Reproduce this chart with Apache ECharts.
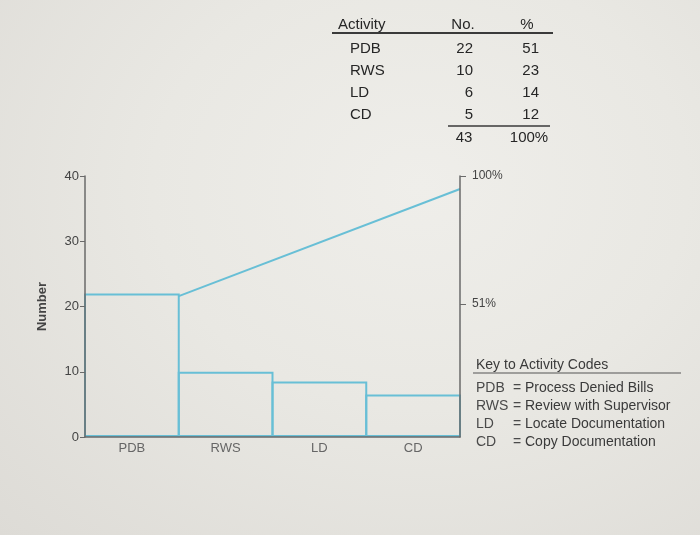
<!DOCTYPE html>
<html>
<head>
<meta charset="utf-8">
<script src="https://cdn.jsdelivr.net/npm/echarts@6/dist/echarts.min.js"></script>
<style>
  html, body { margin: 0; padding: 0; }
  body {
    width: 700px; height: 535px; overflow: hidden;
    background: radial-gradient(ellipse at 60% 35%, #efeeea 0%, #e9e8e3 45%, #dddbd6 100%);
  }
  #chart { width: 700px; height: 535px; }
</style>
</head>
<body>
<div id="chart"></div>
<script>
// ---- data ----
const categories = ['PDB', 'RWS', 'LD', 'CD'];
const barValues = [22, 10, 8.5, 6.5];          // bar heights as drawn in the figure
const cumulativeLine = [[1, 54], [4, 95]];       // cumulative % line as drawn (x = category boundary)
const rightTicks = [51, 100];

const tableActivities = ['PDB', 'RWS', 'LD', 'CD'];
const tableNo = [22, 10, 6, 5];
const tablePct = [51, 23, 14, 12];
const tableTotalNo = 43;
const tableTotalPct = '100%';

const keyCodes = ['PDB', 'RWS', 'LD', 'CD'];
const keyNames = ['Process Denied Bills', 'Review with Supervisor', 'Locate Documentation', 'Copy Documentation'];

// ---- styles ----
const CYAN = '#68bfd6';
const AXIS = '#6a6a6a';
const TXT = '#262626';
const FONT = 'Liberation Sans, Arial, sans-serif';
const GRID = { left: 85, right: 240, top: 176, bottom: 98 };
const BORDER = 2;
const catWidth = (700 - GRID.left - GRID.right) / categories.length;

// ---- graphics (table and key) ----
const g = [];
function txt(x, y, s, align, size, color, weight) {
  g.push({ type: 'text', x: x, y: y, z: 10,
    style: { text: String(s), fill: color || TXT, font: (weight || 'normal') + ' ' + (size || 15) + 'px ' + FONT,
      textAlign: align || 'left', textVerticalAlign: 'middle' } });
}
function ln(x1, y1, x2, y2, w, color) {
  g.push({ type: 'line', z: 10, shape: { x1: x1, y1: y1, x2: x2, y2: y2 },
    style: { stroke: color || '#3a3a3a', lineWidth: w || 1.5 } });
}
// table
txt(338, 25, 'Activity', 'left', 15);
txt(463, 25, 'No.', 'center', 15);
txt(527, 25, '%', 'center', 15);
ln(332, 33, 553, 33, 2);
const rowY = [49, 71, 93, 115];
tableActivities.forEach((a, i) => {
  txt(350, rowY[i], a, 'left', 15);
  txt(473, rowY[i], tableNo[i], 'right', 15);
  txt(539, rowY[i], tablePct[i], 'right', 15);
});
ln(448, 126, 550, 126, 1.5);
txt(464, 138, tableTotalNo, 'center', 15);
txt(529, 138, tableTotalPct, 'center', 15);

// key
txt(476, 365, 'Key to Activity Codes', 'left', 14, '#3a3a3a');
ln(473, 373, 681, 373, 1.2, '#555');
const keyY = [388, 406, 424, 442];
keyCodes.forEach((c, i) => {
  txt(476, keyY[i], c, 'left', 14, '#4a4a4a');
  txt(513, keyY[i], '=', 'left', 14, '#4a4a4a');
  txt(525, keyY[i], keyNames[i], 'left', 14, '#3a3a3a');
});

// ---- chart ----
const chart = echarts.init(document.getElementById('chart'), null, { renderer: 'canvas' });
chart.setOption({
  backgroundColor: 'transparent',
  animation: false,
  grid: GRID,
  xAxis: [
    {
      type: 'category', data: categories, z: 5,
      axisLine: { lineStyle: { color: AXIS, width: 1.5 } },
      axisTick: { show: false },
      axisLabel: { color: '#666', fontSize: 13, fontFamily: FONT, margin: 5 }
    },
    {
      type: 'value', min: 0, max: categories.length, show: false
    }
  ],
  yAxis: [
    {
      type: 'value', min: 0, max: 40, interval: 10, z: 5,
      name: 'Number', nameLocation: 'middle', nameGap: 36, nameRotate: 90,
      nameTextStyle: { color: '#444', fontSize: 13, fontWeight: 'bold', fontFamily: FONT },
      axisLine: { show: true, lineStyle: { color: AXIS, width: 1.5 } },
      axisTick: { show: true, length: 5, lineStyle: { color: AXIS } },
      axisLabel: { color: '#444', fontSize: 13, fontFamily: FONT, margin: 6 },
      splitLine: { show: false }
    },
    {
      type: 'value', min: 0, max: 100, position: 'right', z: 5,
      axisLine: { show: true, lineStyle: { color: AXIS, width: 1.5 } },
      axisTick: { show: true, length: 6, customValues: rightTicks, lineStyle: { color: AXIS } },
      axisLabel: { show: true, customValues: rightTicks, formatter: v => v + '%',
        color: '#444', fontSize: 12, fontFamily: FONT, margin: 12 },
      splitLine: { show: false }
    }
  ],
  series: [
    {
      type: 'bar', data: barValues, xAxisIndex: 0, yAxisIndex: 0,
      barWidth: catWidth + BORDER,
      itemStyle: { color: 'rgba(0,0,0,0)', borderColor: CYAN, borderWidth: BORDER },
      emphasis: { disabled: true }
    },
    {
      type: 'line', data: cumulativeLine, xAxisIndex: 1, yAxisIndex: 1,
      showSymbol: false, symbol: 'none',
      lineStyle: { color: CYAN, width: 2 }
    }
  ],
  graphic: g
});
</script>
</body>
</html>
